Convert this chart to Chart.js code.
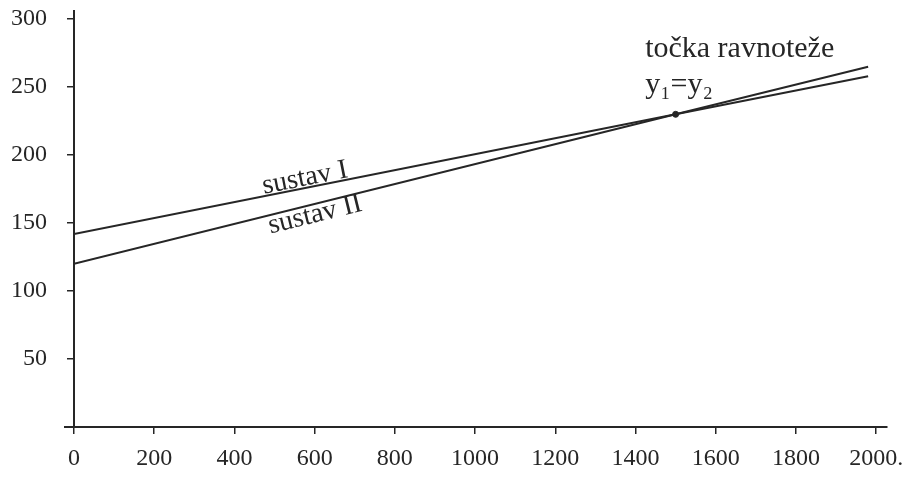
<!DOCTYPE html>
<html>
<head>
<meta charset="utf-8">
<script src="https://cdn.jsdelivr.net/npm/chart.js@4.4.0/dist/chart.umd.min.js"></script>
<style>
html, body { margin: 0; padding: 0; background: #fff; }
</style>
</head>
<body>
<canvas id="chart" width="906" height="485"></canvas>
<script>
// data
var xPoints = [0, 1500, 1980];
var sustavI = [142, 230, 258];
var sustavII = [120, 230, 265];
var equilibrium = [1500, 230];
var xTicks = [0, 200, 400, 600, 800, 1000, 1200, 1400, 1600, 1800, 2000];
var xTickLabels = ["0", "200", "400", "600", "800", "1000", "1200", "1400", "1600", "1800", "2000."];
var yTicks = [50, 100, 150, 200, 250, 300];

var ink = '#262626';
var serif = '"Liberation Serif", "DejaVu Serif", serif';

function toPoints(ys) {
    return xPoints.map(function(x, i) { return { x: x, y: ys[i] }; });
}

// text along the lines and at the equilibrium point
var lineLabels = {
    id: 'lineLabels',
    afterDatasetsDraw: function(chart) {
        var ctx = chart.ctx;
        var xs = chart.scales.x, ys = chart.scales.y;
        function slope(vals) {
            var dx = xs.getPixelForValue(xPoints[2]) - xs.getPixelForValue(xPoints[0]);
            var dy = ys.getPixelForValue(vals[2]) - ys.getPixelForValue(vals[0]);
            return Math.atan2(dy, dx);
        }
        ctx.save();
        // x axis runs a little past the y axis on the left
        ctx.strokeStyle = ink;
        ctx.lineWidth = 2;
        ctx.beginPath();
        ctx.moveTo(chart.chartArea.left - 10, chart.chartArea.bottom);
        ctx.lineTo(chart.chartArea.left, chart.chartArea.bottom);
        ctx.stroke();

        ctx.fillStyle = ink;
        ctx.font = '28px ' + serif;
        ctx.textAlign = 'center';
        ctx.textBaseline = 'middle';
        [['sustav I', 576, 183, sustavI], ['sustav II', 601, 156, sustavII]].forEach(function(l) {
            ctx.save();
            ctx.translate(xs.getPixelForValue(l[1]), ys.getPixelForValue(l[2]));
            ctx.rotate(slope(l[3]));
            ctx.fillText(l[0], 0, 0);
            ctx.restore();
        });
        ctx.font = '30px ' + serif;
        ctx.textAlign = 'left';
        ctx.textBaseline = 'alphabetic';
        ctx.fillText('točka ravnoteže', xs.getPixelForValue(1424), ys.getPixelForValue(272));
        ctx.fillText('y₁=y₂', xs.getPixelForValue(1424), ys.getPixelForValue(246));
        ctx.restore();
    }
};

var ctx = document.getElementById('chart').getContext('2d');
var myChart = new Chart(ctx, {
    type: 'line',
    data: {
        datasets: [{
            label: 'sustav I',
            data: toPoints(sustavI),
            borderColor: ink,
            borderWidth: 2,
            pointRadius: 0,
            tension: 0
        }, {
            label: 'sustav II',
            data: toPoints(sustavII),
            borderColor: ink,
            borderWidth: 2,
            pointRadius: 0,
            tension: 0
        }, {
            label: 'y1=y2',
            data: [{ x: equilibrium[0], y: equilibrium[1] }],
            showLine: false,
            pointRadius: 3,
            pointBackgroundColor: ink,
            pointBorderColor: ink
        }]
    },
    options: {
        responsive: false,
        animation: false,
        devicePixelRatio: 1,
        layout: { padding: { top: 11, right: 19, left: 0, bottom: 0 } },
        plugins: {
            legend: { display: false },
            tooltip: { enabled: false }
        },
        scales: {
            x: {
                type: 'linear',
                min: 0,
                max: 2027,
                afterBuildTicks: function(scale) {
                    scale.ticks = xTicks.map(function(v) { return { value: v }; });
                },
                afterFit: function(scale) {
                    scale.height = 58;
                    scale.paddingLeft = 0;
                    scale.paddingRight = 0;
                },
                ticks: {
                    color: ink,
                    font: { family: serif, size: 24 },
                    padding: 10,
                    maxRotation: 0,
                    callback: function(v, i) { return xTickLabels[i]; }
                },
                grid: { drawOnChartArea: false, drawTicks: true, tickLength: 7, color: ink, lineWidth: 1.5 },
                border: { display: true, color: ink, width: 2 }
            },
            y: {
                min: 0,
                max: 306,
                afterBuildTicks: function(scale) {
                    scale.ticks = yTicks.map(function(v) { return { value: v }; });
                },
                afterFit: function(scale) {
                    scale.width = 74;
                    scale.paddingTop = 0;
                    scale.paddingBottom = 0;
                },
                ticks: {
                    color: ink,
                    font: { family: serif, size: 24 },
                    padding: 20
                },
                grid: { drawOnChartArea: false, drawTicks: true, tickLength: 7, color: ink, lineWidth: 1.5 },
                border: { display: true, color: ink, width: 2 }
            }
        }
    },
    plugins: [lineLabels]
});
</script>
</body>
</html>
